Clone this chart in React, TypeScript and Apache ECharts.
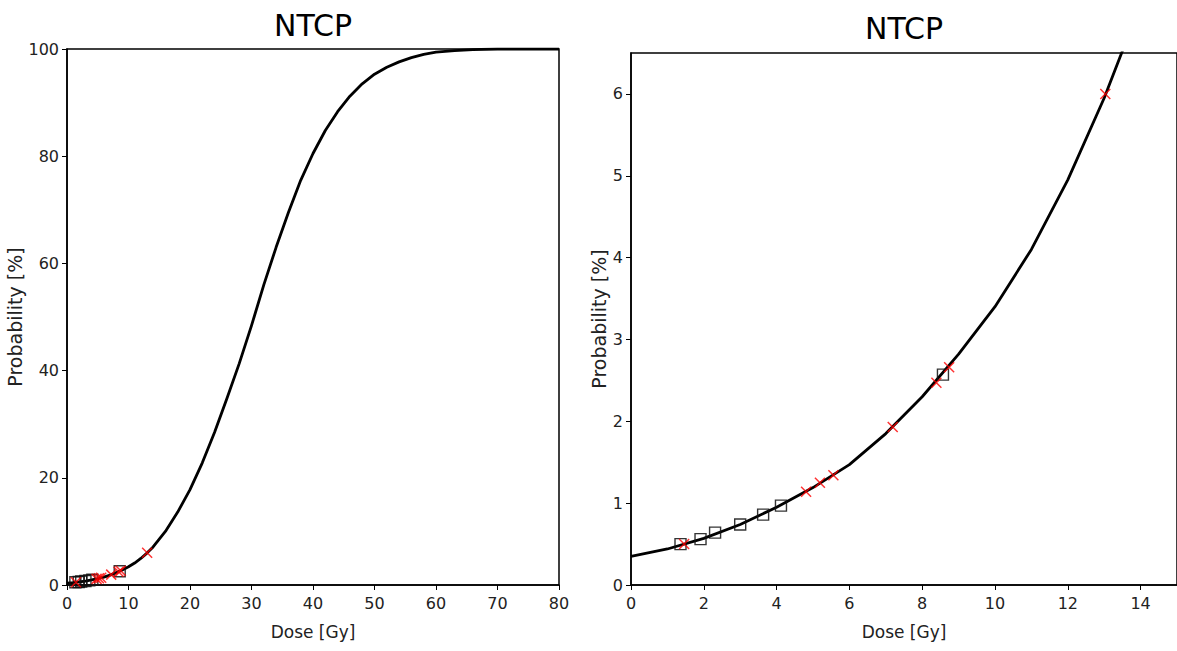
import React, { useEffect, useRef } from "react";
import * as echarts from "echarts";

// NTCP curve (dose in Gy, probability in %)
const curveDose = [0, 1, 2, 3, 4, 5, 6, 7, 8, 9, 10, 11, 12, 13, 14, 16, 18, 20, 22, 24, 26, 28, 30, 32, 34, 36, 38, 40, 42, 44, 46, 48, 50, 52, 54, 56, 58, 60, 63, 66, 70, 80];
const curveProb = [0.35, 0.44, 0.57, 0.74, 0.95, 1.19, 1.47, 1.85, 2.3, 2.82, 3.4, 4.1, 4.95, 5.95, 7.1, 10.0, 13.6, 17.8, 22.8, 28.5, 34.8, 41.3, 48.4, 56.0, 63.0, 69.5, 75.5, 80.5, 84.8, 88.3, 91.2, 93.5, 95.3, 96.6, 97.6, 98.4, 99.0, 99.4, 99.7, 99.9, 100, 100];

// Observed points: black hollow squares
const squareDose = [1.36, 1.91, 2.31, 3.0, 3.63, 4.12, 8.57];
const squareProb = [0.5, 0.56, 0.64, 0.74, 0.86, 0.97, 2.57];

// Observed points: red crosses
const crossDose = [1.46, 4.81, 5.19, 5.56, 7.19, 8.39, 8.74, 13.03];
const crossProb = [0.5, 1.14, 1.25, 1.34, 1.93, 2.47, 2.66, 6.0];

const titleText = "NTCP";
const xName = "Dose [Gy]";
const yName = "Probability [%]";

const labelFont = "'DejaVu Sans', sans-serif";
const crossPath = "path://M0,0L10,10M10,0L0,10";

export default function App() {
  const ref = useRef<HTMLDivElement>(null);
  useEffect(() => {
    const chart = echarts.init(ref.current!, null, { renderer: "svg" });
    const curve = curveDose.map((d, i) => [d, curveProb[i]]);
    const squares = squareDose.map((d, i) => [d, squareProb[i]]);
    const crosses = crossDose.map((d, i) => [d, crossProb[i]]);

    const axisCommon = {
      type: "value" as const,
      axisLine: { show: true, onZero: false, lineStyle: { color: "#000", width: 1.5 } },
      axisTick: { show: true, inside: false, length: 5, lineStyle: { color: "#000", width: 1 } },
      axisLabel: { color: "#222", fontSize: 16, fontFamily: labelFont },
      splitLine: { show: false },
    };

    const xAxisFor = (gi: number, max: number, interval: number, showMax: boolean) => ({
      ...axisCommon,
      gridIndex: gi,
      min: 0,
      max,
      interval,
      axisLabel: { ...axisCommon.axisLabel, margin: 10, showMaxLabel: showMax },
      name: xName,
      nameLocation: "middle" as const,
      nameGap: 38,
      nameTextStyle: { color: "#222", fontSize: 17, fontFamily: labelFont },
    });

    const yAxisFor = (gi: number, max: number, interval: number, gap: number, showMax: boolean) => ({
      ...axisCommon,
      gridIndex: gi,
      min: 0,
      max,
      interval,
      axisLabel: { ...axisCommon.axisLabel, margin: 8, showMaxLabel: showMax },
      name: yName,
      nameLocation: "middle" as const,
      nameGap: gap,
      nameTextStyle: { color: "#222", fontSize: 19, fontFamily: labelFont },
    });

    const seriesFor = (gi: number) => [
      {
        type: "line",
        xAxisIndex: gi,
        yAxisIndex: gi,
        data: curve,
        showSymbol: false,
        symbol: "none",
        smooth: false,
        clip: true,
        lineStyle: { color: "#000", width: 2.8, join: "round" },
        z: 2,
      },
      {
        type: "scatter",
        xAxisIndex: gi,
        yAxisIndex: gi,
        data: squares,
        symbol: "rect",
        symbolSize: 11,
        itemStyle: { color: "none", borderColor: "#111", borderWidth: 1.4, opacity: 0.85 },
        z: 3,
      },
      {
        type: "scatter",
        xAxisIndex: gi,
        yAxisIndex: gi,
        data: crosses,
        symbol: crossPath,
        symbolSize: 10,
        itemStyle: { color: "red", borderColor: "red", borderWidth: 1.5 },
        z: 4,
      },
    ];

    chart.setOption({
      animation: false,
      backgroundColor: "#fff",
      title: [
        { text: titleText, left: 313, top: 10, textAlign: "center", padding: 0, textStyle: { fontSize: 30, fontWeight: "normal", color: "#000", fontFamily: labelFont } },
        { text: titleText, left: 904, top: 13, textAlign: "center", padding: 0, textStyle: { fontSize: 30, fontWeight: "normal", color: "#000", fontFamily: labelFont } },
      ],
      grid: [
        { left: 67, top: 49, width: 492, height: 536, show: true, borderColor: "#000", borderWidth: 1.5, backgroundColor: "transparent" },
        { left: 631, top: 53, width: 549, height: 532, show: true, borderColor: "#000", borderWidth: 1.5, backgroundColor: "transparent" },
      ],
      xAxis: [xAxisFor(0, 80, 10, true), xAxisFor(1, 15, 2, false)],
      yAxis: [yAxisFor(0, 100, 20, 38, true), yAxisFor(1, 6.5, 1, 20, false)],
      series: [...seriesFor(0), ...seriesFor(1)],
    });
    return () => chart.dispose();
  }, []);
  return <div ref={ref} style={{ position: "absolute", left: 0, top: 0, width: 1177, height: 651 }} />;
}
